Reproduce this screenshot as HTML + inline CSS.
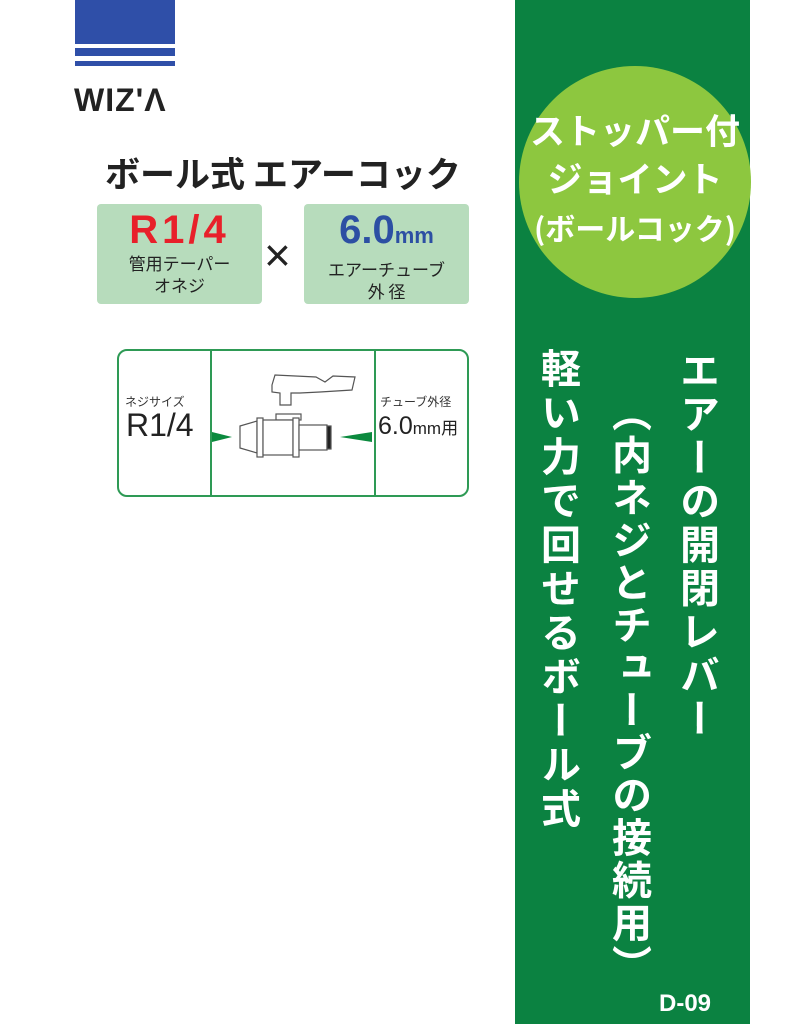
<!DOCTYPE html>
<html><head><meta charset="utf-8"><style>
*{margin:0;padding:0;box-sizing:border-box}
body{width:808px;height:1024px;background:#fff;position:relative;overflow:hidden;font-family:"Liberation Sans","Noto Sans CJK JP",sans-serif}
.a{position:absolute}
.v{position:absolute;writing-mode:vertical-rl;color:#fff;font-weight:bold;font-size:40px;line-height:40px;font-family:"Noto Sans CJK JP",sans-serif}
.box{position:absolute;background:#b7dcbc;border-radius:4px;text-align:center;color:#222}
</style></head><body>
<div class="a" style="left:75px;top:0;width:100px;height:44px;background:#2f4fa8"></div>
<div class="a" style="left:75px;top:48px;width:100px;height:8px;background:#2f4fa8"></div>
<div class="a" style="left:75px;top:61px;width:100px;height:5px;background:#2f4fa8"></div>
<div class="a" style="left:74px;top:82px;font-size:32px;font-weight:bold;color:#222;letter-spacing:1px">WIZ'Λ</div>
<div class="a" style="left:105px;top:147px;font-size:35px;font-weight:bold;color:#222;font-family:'Noto Sans CJK JP',sans-serif;white-space:nowrap">ボール式 エアーコック</div>
<div class="box" style="left:97px;top:204px;width:165px;height:100px">
<div style="font-size:40px;font-weight:bold;color:#e8202a;line-height:44px;margin-top:4px;letter-spacing:4px">R1/4</div>
<div style="font-size:17px;line-height:22px;font-family:'Noto Sans CJK JP',sans-serif">管用テーパー<br>オネジ</div></div>
<div class="a" style="left:264px;top:228px;font-size:46px;color:#222;font-weight:300">×</div>
<div class="box" style="left:304px;top:204px;width:165px;height:100px">
<div style="font-size:40px;font-weight:bold;color:#2c4fa3;line-height:44px;margin-top:4px">6.0<span style="font-size:22px">mm</span></div>
<div style="font-size:17px;line-height:22px;font-family:'Noto Sans CJK JP',sans-serif">エアーチューブ<br>外 径</div></div>
<div class="a" style="left:117px;top:349px;width:352px;height:148px;border:2px solid #2e9a55;border-radius:10px"></div>
<div class="a" style="left:210px;top:350px;width:2px;height:146px;background:#2e9a55"></div>
<div class="a" style="left:374px;top:350px;width:2px;height:146px;background:#2e9a55"></div>
<div class="a" style="left:125px;top:393px;font-size:12px;color:#333;font-family:'Noto Sans CJK JP',sans-serif">ネジサイズ</div>
<div class="a" style="left:126px;top:407px;font-size:32px;color:#222">R1/4</div>
<div class="a" style="left:380px;top:393px;font-size:12px;color:#333;font-family:'Noto Sans CJK JP',sans-serif">チューブ外径</div>
<div class="a" style="left:378px;top:412px;font-size:25px;color:#222;white-space:nowrap">6.0<span style="font-size:17px">mm用</span></div>
<svg class="a" style="left:0;top:0" width="808" height="1024">
<polygon points="212,432 232,437 212,442" fill="#0b8a3e"/>
<polygon points="372,432 340,437 372,442" fill="#0b8a3e"/>
<g fill="#fff" stroke="#555" stroke-width="1.2">
<path d="M272,385 L275,375 L316,377 L325,382 L333,376 L355,377 L352,390 L320,392 L300,393 L291,393 L291,405 L280,405 L280,393 L272,392Z"/>
<rect x="276" y="414" width="25" height="6"/>
<polygon points="240,426 257,421 257,453 240,448"/>
<rect x="257" y="418" width="6" height="39"/>
<rect x="263" y="420" width="30" height="35"/>
<rect x="293" y="418" width="6" height="39"/>
<rect x="299" y="425" width="28" height="25"/>
<rect x="327" y="426" width="4" height="23" fill="#222"/>
</g>
</svg>
<div class="a" style="left:515px;top:0;width:235px;height:1024px;background:#0b8241"></div>
<div class="a" style="left:519px;top:66px;width:232px;height:232px;border-radius:50%;background:#8dc73f"></div>
<div class="a" style="left:519px;top:106px;width:232px;text-align:center;color:#fff;font-weight:bold;font-family:'Noto Sans CJK JP',sans-serif;font-size:35px;line-height:48px">ストッパー付<br>ジョイント<br><span style="font-size:30px">(ボールコック)</span></div>
<div class="v" style="left:680px;top:350px;letter-spacing:3.5px">エアーの開閉レバー</div>
<div class="v" style="left:612px;top:392px;letter-spacing:2.5px">（内ネジとチューブの接続用）</div>
<div class="v" style="left:541px;top:348px;letter-spacing:4px">軽い力で回せるボール式</div>
<div class="a" style="left:659px;top:990px;color:#fff;font-size:24px;font-weight:bold">D-09</div>
</body></html>
